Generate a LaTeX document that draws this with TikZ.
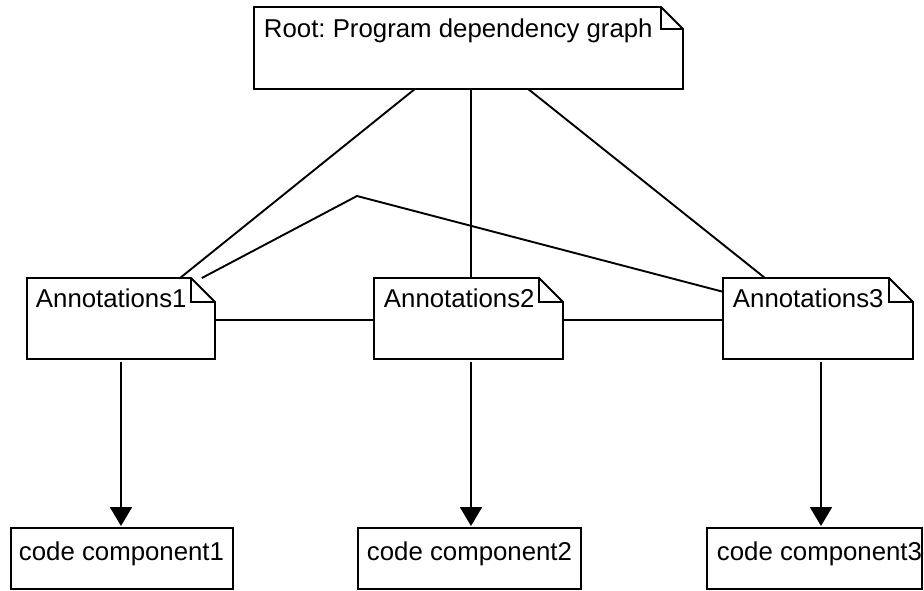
\documentclass[tikz,border=0pt]{standalone}
\usepackage{fontspec}
\setmainfont{Liberation Sans}
\usetikzlibrary{arrows.meta,calc}
\frenchspacing

\tikzset{
  frame/.style={draw=none, rectangle, anchor=north west, inner sep=0pt, outer sep=0pt},
  plainbox/.style={frame, draw=black},
  txt/.style={anchor=base west, inner sep=0pt, font=\fontsize{25.8}{30}\selectfont},
  outline/.style={draw=black, line join=miter},
  link/.style={draw=black},
  flow/.style={draw=black, -{Triangle[length=19pt,width=22pt]}, shorten <=3pt, shorten >=2pt}
}

% note shape with a folded top-right corner: #1 node name, #2 fold size
\newcommand\dogear[2]{%
  \draw[outline] (#1.south west) -- (#1.north west) -- ([xshift=-#2]#1.north east)
    -- ([yshift=-#2]#1.north east) -- (#1.south east) -- cycle;
  \draw[outline] ([xshift=-#2]#1.north east) |- ([yshift=-#2]#1.north east);
}

\begin{document}
\begin{tikzpicture}[x=1pt, y=-1pt, line width=1.9pt]
\useasboundingbox (0,0) rectangle (924,590);

% notes
\node[frame, minimum width=429pt, minimum height=82pt] (root) at (254,7) {};
\node[frame, minimum width=188pt, minimum height=81pt] (A1) at (27,278) {};
\node[frame, minimum width=189pt, minimum height=81pt] (A2) at (374,278) {};
\node[frame, minimum width=190pt, minimum height=81pt] (A3) at (723,278) {};
\dogear{root}{22pt}
\dogear{A1}{24pt}
\dogear{A2}{24pt}
\dogear{A3}{24pt}

% components
\node[plainbox, minimum width=222pt, minimum height=61pt] (C1) at (11,528) {};
\node[plainbox, minimum width=223pt, minimum height=61pt] (C2) at (358,528) {};
\node[plainbox, minimum width=215pt, minimum height=61pt] (C3) at (707,528) {};

% labels
\node[txt] (rootlabel) at (263,37.5) {Root: Program dependency graph};
\node[txt] (A1label) at (35,307) {Annotations1};
\node[txt] (A2label) at (383,307) {Annotations2};
\node[txt] (A3label) at (732,307) {Annotations3};
\node[txt] (C1label) at (18,560) {code component1};
\node[txt] (C2label) at (366,560) {code component2};
\node[txt] (C3label) at (716,560) {code component3};

% links from the root
\draw[link] ($(root.south west)!0.375!(root.south east)$) -- ($(A1.north west)!0.814!(A1.north east)$);
\coordinate (rootmid) at ($(root.south)+(2.5,0)$);
\draw[link] (rootmid) -- (rootmid |- A2.north);
\draw[link] ($(root.south west)!0.639!(root.south east)$) -- ($(A3.north west)!0.221!(A3.north east)$);

% link between the outer annotations
\coordinate (bend) at (357,196);
\draw[link] ($(A1.north west)!0.93!(A1.north east)$) -- (bend) -- ($(A3.north west)!0.17!(A3.south west)$);

% links between neighbouring annotations, a little below the middle
\draw[link] ([yshift=-1.5pt]A1.east) -- ([yshift=-1.5pt]A2.west);
\draw[link] ([yshift=-1.5pt]A2.east) -- ([yshift=-1.5pt]A3.west);

% arrows down to the components
\coordinate (a1b) at (A1.south);
\coordinate (a2b) at ($(A2.south)+(2.5,0)$);
\coordinate (a3b) at ($(A3.south)+(3,0)$);
\draw[flow] (a1b) -- (a1b |- C1.north);
\draw[flow] (a2b) -- (a2b |- C2.north);
\draw[flow] (a3b) -- (a3b |- C3.north);
\end{tikzpicture}
\end{document}
